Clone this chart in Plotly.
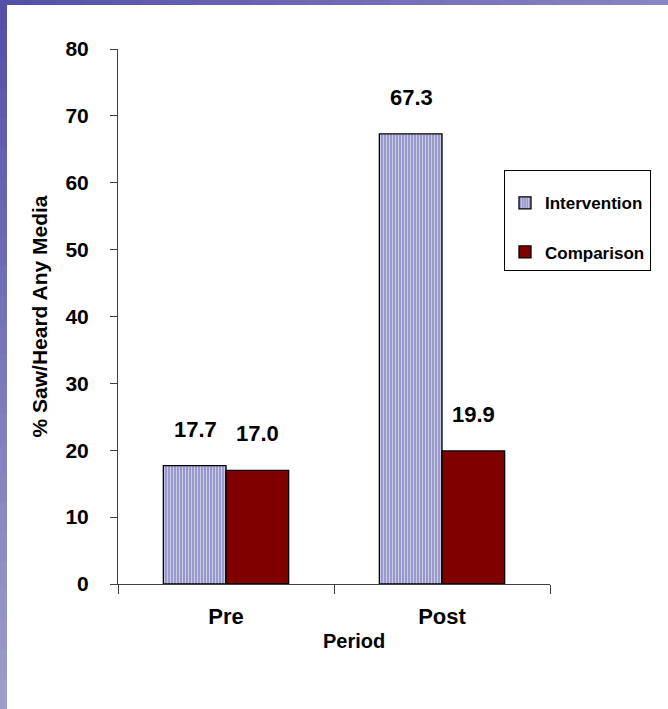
import plotly.graph_objects as go

# Share of respondents who saw/heard any campaign media, by survey period
periods = ["Pre", "Post"]
intervention = [17.7, 67.3]
comparison = [17.0, 19.9]
y_ticks = [0, 10, 20, 30, 40, 50, 60, 70, 80]

FONT = "Arial, 'Liberation Sans', sans-serif"
W, H = 668, 709
L, R, T, B = 118, 118, 49, 125


def bold(size):
    return dict(family=FONT, size=size, color="black", weight="bold")


fig = go.Figure()
fig.add_trace(go.Bar(
    name="Intervention", x=periods, y=intervention, legendgroup="a",
    marker=dict(color="#9a9acc", line=dict(color="black", width=1.3),
                pattern=dict(shape="|", fgcolor="white", bgcolor="#9a9acc",
                             size=3, solidity=0.3)),
))
fig.add_trace(go.Bar(
    name="Comparison", x=periods, y=comparison, legendgroup="b",
    marker=dict(color="#800000", line=dict(color="black", width=1.3)),
))

# value labels above each bar
for tr_idx, vals in enumerate([intervention, comparison]):
    for i, v in enumerate(vals):
        fig.add_annotation(
            x=periods[i], y=v, xref="x", yref="y",
            text=f"{v:.1f}", showarrow=False,
            xshift=(-31 if tr_idx == 0 else 31), yshift=22, yanchor="bottom",
            font=bold(22),
        )

pw, ph = W - L - R, H - T - B

# x-axis title
fig.add_annotation(
    x=(354 - L) / pw, y=-(641 - (H - B)) / ph,
    xref="paper", yref="paper", text="Period", showarrow=False,
    yanchor="middle", font=bold(20),
)


# slide-style gradient frame along the left and top edges
def mix(c1, c2, t):
    return "rgb(%d,%d,%d)" % tuple(round(a + (b - a) * t) for a, b in zip(c1, c2))


n = 24
for k in range(n):
    y0 = k / n * H
    y1 = (k + 1) / n * H + 1
    fig.add_shape(type="rect", xref="paper", yref="paper",
                  x0=-L / pw, x1=(7 - L) / pw,
                  y0=(H - B - y1) / ph, y1=(H - B - y0) / ph,
                  fillcolor=mix((84, 80, 168), (156, 156, 200), k / (n - 1)),
                  line=dict(width=0), layer="below")
    x0 = k / n * W
    x1 = (k + 1) / n * W + 1
    fig.add_shape(type="rect", xref="paper", yref="paper",
                  x0=(x0 - L) / pw, x1=(x1 - L) / pw,
                  y0=(H - B - 5) / ph, y1=(H - B) / ph,
                  fillcolor=mix((84, 80, 168), (138, 132, 192), k / (n - 1)),
                  line=dict(width=0), layer="below")

fig.update_layout(
    width=W, height=H,
    margin=dict(l=L, r=R, t=T, b=B),
    paper_bgcolor="white", plot_bgcolor="white",
    barmode="group", bargap=0.42, bargroupgap=0,
    font=dict(family=FONT, color="black"),
    showlegend=True,
    legend=dict(
        x=(504 - L) / pw, y=(H - B - 170) / ph, xanchor="left", yanchor="top",
        bordercolor="black", borderwidth=1, bgcolor="white",
        font=bold(17),
        title=dict(text="&nbsp;", font=dict(size=11)),
        tracegroupgap=24, itemwidth=30,
    ),
    xaxis=dict(
        showline=True, linecolor="#404040", linewidth=1,
        ticks="outside", tickson="boundaries", ticklen=9, tickcolor="#404040",
        tickfont=bold(22), ticklabelstandoff=13,
        showgrid=False, zeroline=False,
    ),
    yaxis=dict(
        range=[0, 80], tickvals=y_ticks,
        showline=True, linecolor="#404040", linewidth=1,
        ticks="outside", ticklen=7, tickcolor="#404040",
        tickfont=bold(21), ticklabelstandoff=17,
        showgrid=False, zeroline=False,
        title=dict(text="% Saw/Heard Any Media", standoff=12, font=bold(21)),
    ),
)

fig.write_html("out.html")
